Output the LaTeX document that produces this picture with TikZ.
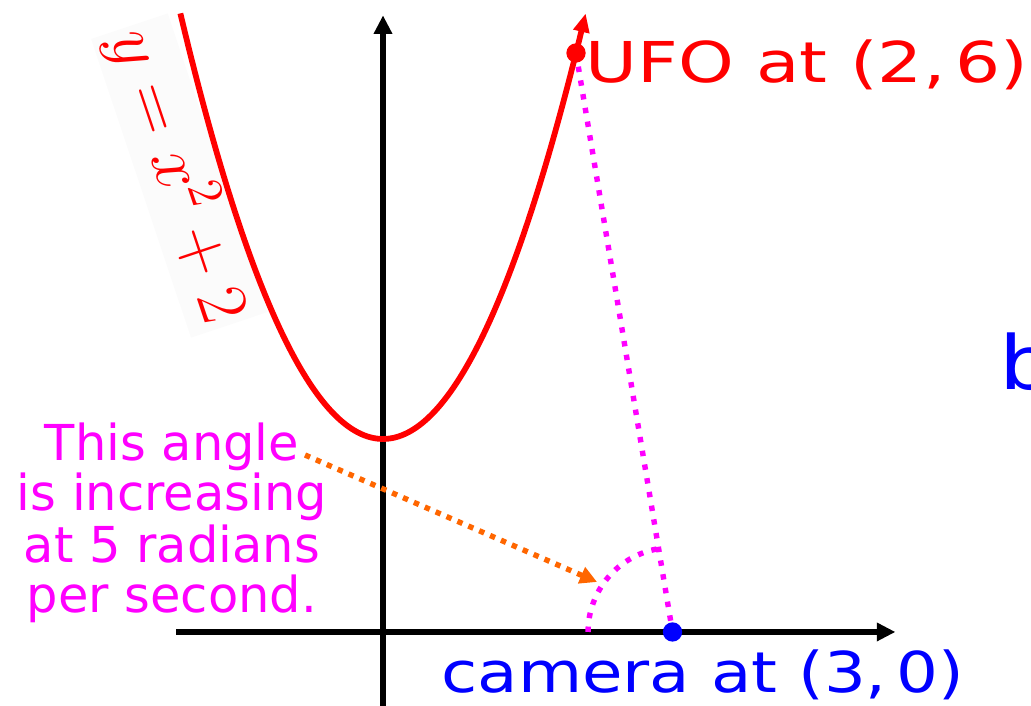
\documentclass[tikz,border=0pt]{standalone}
\usepackage{fontspec}
\newfontfamily\fmag{DejaVu Sans}
\newfontfamily\fcam[FakeStretch=1.17]{DejaVu Sans}
\newfontfamily\fufo[FakeStretch=1.26]{DejaVu Sans}
\usetikzlibrary{arrows.meta}
\definecolor{myorange}{RGB}{255,102,0}
\definecolor{mymag}{RGB}{255,0,255}
\definecolor{myred}{RGB}{255,0,0}
\definecolor{myblue}{RGB}{0,0,255}
\tikzset{
  axis/.style={line width=1.7pt, -{Triangle[length=5.5pt,width=5.2pt]}},
  curve/.style={myred, line width=1.7pt, -{Triangle[length=5.5pt,width=4.6pt]}},
  magdot/.style={mymag, line width=1.6pt, dash pattern=on 1.6pt off 2.5pt},
  orgdot/.style={myorange, line width=1.6pt, dash pattern=on 1.6pt off 1.9pt, -{Triangle[length=5pt,width=5pt]}},
  pt/.style={circle, fill, inner sep=0pt, minimum size=0.2cm},
  magtext/.style={text=mymag, anchor=base, inner sep=0pt, font={\fmag\fontsize{14.6}{15.2}\selectfont}},
}
\begin{document}
\begin{tikzpicture}
\useasboundingbox (-3.969,-0.767) rectangle (6.715,6.549);
\clip (-3.969,-0.767) rectangle (6.715,6.549);
% axes
\coordinate (xs) at (-2.14,0);
\coordinate (xe) at (5.31,0);
\coordinate (ys) at (0,-0.9);
\coordinate (ye) at (0,6.39);
\draw[axis] (xs) -- (xe);
\draw[axis] (ys) -- (ye);
% curve label
\node[rotate=-71.5, fill=black!1.5, text=myred, inner sep=1.5pt] (lab) at (-2.11,4.73)
  {\fontsize{22.2}{26}\selectfont $y = x^2 + 2$};
% curve
\draw[curve] plot[domain=-2.1:2.1, samples=120, smooth] (\x, {\x*\x+2});
% points
\coordinate (ufo) at (2,6);
\coordinate (cam) at (3,0);
\draw[magdot] (ufo) -- (cam);
\draw[magdot] ([shift={(180:0.875)}]cam) arc[start angle=180, end angle=99.46, radius=0.875];
% text
\node[magtext] (t1) at (-2.187,1.782) {This angle};
\node[magtext] (t2) at (-2.187,1.254) {is increasing};
\node[magtext] (t3) at (-2.187,0.725) {at 5 radians};
\node[magtext] (t4) at (-2.187,0.197) {per second.};
\coordinate (os) at (-0.808,1.834);
\coordinate (oe) at (2.218,0.518);
\draw[orgdot] (os) -- (oe);
\node[pt, myred] (ufodot) at (ufo) {};
\node[pt, myblue] (camdot) at (cam) {};
\node[text=myred, anchor=base west, inner sep=0pt] (ufolab) at (2.09,5.69)
  {\fufo\fontsize{16.6}{20}\selectfont UFO at (2,\,6)};
\node[text=myblue, anchor=base west, inner sep=0pt] (camlab) at (0.60,-0.632)
  {\fcam\fontsize{16.6}{20}\selectfont camera at (3,\,0)};
\node[text=myblue, anchor=base west, inner sep=0pt] (b) at (6.38,2.51)
  {\fcam\fontsize{22}{26}\selectfont b};
\end{tikzpicture}
\end{document}
